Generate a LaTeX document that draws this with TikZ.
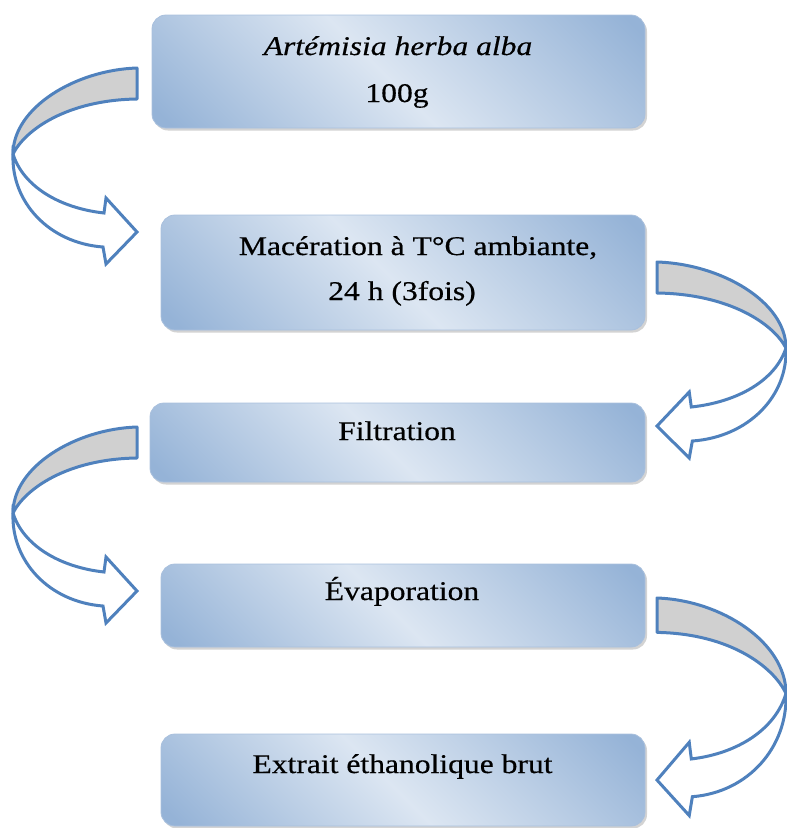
\documentclass[tikz,border=0pt]{standalone}
\usepackage{fontspec}
\setmainfont{Liberation Serif}[FakeStretch=1.17,FakeBold=0.5]
\usetikzlibrary{shadows}
\definecolor{boxdark}{HTML}{95B3D7}
\definecolor{boxmid}{HTML}{B8CCE4}
\definecolor{boxlight}{HTML}{DCE6F2}
\definecolor{arrowblue}{HTML}{4F81BD}
\definecolor{arrowgray}{HTML}{D0D0D0}
\definecolor{boxedge}{HTML}{A9C0DD}
\pgfdeclarehorizontalshading{boxshade}{100bp}{color(0bp)=(boxdark); color(17bp)=(boxdark); color(32bp)=(boxmid); color(48bp)=(boxlight); color(66bp)=(boxmid); color(83bp)=(boxdark); color(100bp)=(boxdark)}
\tikzset{
  stepbox/.style={rectangle, rounded corners=14pt, draw=boxedge, line width=0.8pt,
    shading=boxshade, shading angle=45, inner sep=0pt,
    drop shadow={shadow xshift=2pt, shadow yshift=-2.5pt, opacity=0.35}},
  steptext/.style={font=\fontsize{27}{32}\selectfont, text=black, anchor=base, inner sep=0pt},
  bandback/.style={draw=arrowblue, line width=3pt, fill=arrowgray, line join=round},
  bandfront/.style={draw=arrowblue, line width=3pt, fill=white, line join=miter},
  bentarrow/.pic={
    \path[bandback] (0,0) .. controls (62,2) and (124,40) .. (124,86)
      .. controls (112,62) and (70,32) .. (0,31) -- cycle;
    \path[bandfront] (124,86) .. controls (114,118) and (78,140) .. (33,145)
      -- (31,130) -- (0,164) -- (31,196) -- (34,179)
      .. controls (88,175) and (126,134) .. (124,86) -- cycle;
  }
}
\begin{document}
\begin{tikzpicture}[x=1pt,y=-1pt]
\useasboundingbox (0,0) rectangle (787,828);

% boxes
\node[stepbox, minimum width=493pt, minimum height=113pt] (b1) at (398.5,71.5) {};
\node[stepbox, minimum width=484pt, minimum height=115pt] (b2) at (403,272.5) {};
\node[stepbox, minimum width=495pt, minimum height=79pt] (b3) at (397.5,442.5) {};
\node[stepbox, minimum width=484pt, minimum height=83pt] (b4) at (403,605.5) {};
\node[stepbox, minimum width=484pt, minimum height=92pt] (b5) at (403,780) {};

% texts
\node[steptext] (t1a) at (398,55) {\textit{Artémisia herba alba}};
\node[steptext] (t1b) at (397,102) {100g};
\node[steptext] (t2a) at (418,255) {Macération à T°C ambiante,};
\node[steptext] (t2b) at (402,300) {24 h (3fois)};
\node[steptext] (t3) at (397,440) {Filtration};
\node[steptext] (t4) at (402,600) {Évaporation};
\node[steptext] (t5) at (402.5,773) {Extrait éthanolique brut};

% curved block arrows
\begin{scope}[shift={(137,68)}, xscale=-1]
  \pic[transform shape] {bentarrow};
\end{scope}
\begin{scope}[shift={(657,262)}, xscale=1.04]
  \pic[transform shape] {bentarrow};
\end{scope}
\begin{scope}[shift={(137,427)}, xscale=-1]
  \pic[transform shape] {bentarrow};
\end{scope}
\begin{scope}[shift={(657,598)}, xscale=1.04, yscale=1.11]
  \pic[transform shape] {bentarrow};
\end{scope}
\end{tikzpicture}
\end{document}
